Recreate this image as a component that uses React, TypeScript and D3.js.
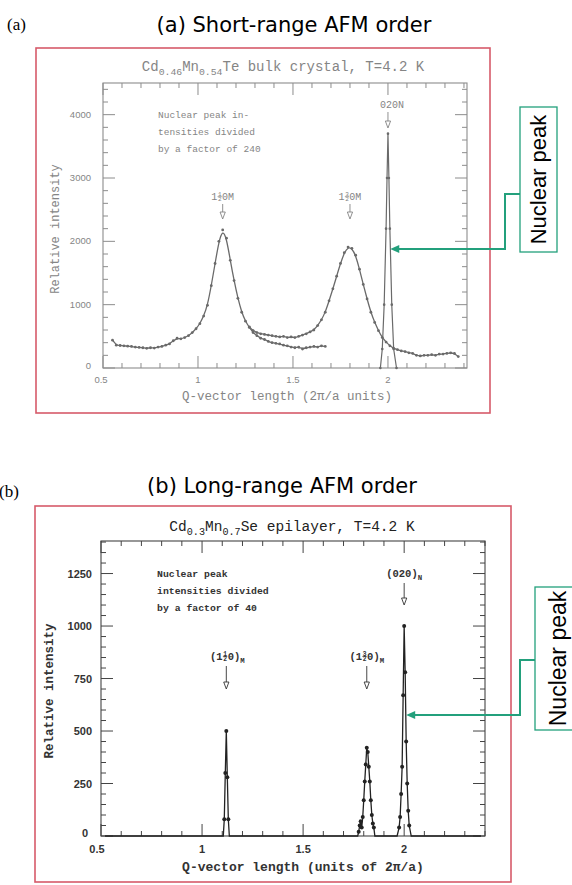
import * as d3 from "d3";
import { useEffect, useRef } from "react";

// ---- panel (a): Cd0.46Mn0.54Te bulk crystal, short-range order ----
const scanAQ = [0.55, 0.57, 0.59, 0.61, 0.63, 0.65, 0.67, 0.69, 0.71, 0.73, 0.75, 0.77, 0.79, 0.81, 0.83, 0.85, 0.87, 0.89, 0.91, 0.93, 0.95, 0.97, 0.99, 1.01, 1.03, 1.05, 1.07, 1.09, 1.11, 1.13, 1.15, 1.17, 1.19, 1.21, 1.23, 1.25, 1.27, 1.29, 1.31, 1.33, 1.35, 1.37, 1.39, 1.41, 1.43, 1.45, 1.47, 1.49, 1.51, 1.53, 1.55, 1.57, 1.59, 1.61, 1.63, 1.65, 1.67];
const scanAI = [440, 360, 355, 350, 345, 340, 330, 325, 320, 310, 320, 315, 330, 340, 360, 380, 430, 470, 460, 480, 510, 560, 620, 700, 820, 990, 1300, 1650, 2000, 2180, 2050, 1700, 1380, 1100, 880, 740, 640, 560, 510, 470, 450, 420, 400, 390, 380, 360, 350, 330, 320, 330, 300, 320, 330, 340, 330, 350, 340];

const scanBQ = [1.27, 1.29, 1.31, 1.33, 1.35, 1.37, 1.39, 1.41, 1.43, 1.45, 1.47, 1.49, 1.51, 1.53, 1.55, 1.57, 1.59, 1.61, 1.63, 1.65, 1.67, 1.69, 1.71, 1.73, 1.75, 1.77, 1.79, 1.81, 1.83, 1.85, 1.87, 1.89, 1.91, 1.93, 1.95, 1.97, 1.99, 2.01, 2.03, 2.05, 2.07, 2.09, 2.11, 2.13, 2.15, 2.17, 2.19, 2.21, 2.23, 2.25, 2.27, 2.29, 2.31, 2.33, 2.35, 2.37];
const scanBI = [650, 590, 560, 540, 530, 520, 510, 500, 490, 500, 480, 490, 480, 500, 520, 540, 570, 600, 670, 760, 880, 1060, 1250, 1450, 1650, 1820, 1910, 1890, 1780, 1560, 1320, 1090, 880, 720, 590, 480, 410, 350, 310, 290, 270, 260, 240, 230, 200, 190, 200, 200, 210, 200, 220, 220, 230, 240, 230, 180];

const nucAQ = [1.96, 1.97, 1.98, 1.99, 1.995, 2.0, 2.005, 2.01, 2.02, 2.03, 2.045];
const nucAI = [0, 300, 1000, 2200, 3000, 3700, 3000, 2200, 1000, 300, 0];

const xTicksA = [0.5, 1, 1.5, 2];
const yTicksA = [0, 1000, 2000, 3000, 4000];

// ---- panel (b): Cd0.3Mn0.7Se epilayer, long-range order ----
const epiQ = [0.52, 1.105, 1.11, 1.115, 1.12, 1.125, 1.13, 1.135, 1.77, 1.775, 1.78, 1.785, 1.79, 1.795, 1.8, 1.805, 1.81, 1.815, 1.82, 1.825, 1.83, 1.835, 1.84, 1.845, 1.85, 1.855, 1.965, 1.975, 1.98, 1.985, 1.99, 1.995, 2.0, 2.005, 2.01, 2.015, 2.02, 2.025, 2.035, 2.38];
const epiI = [0, 0, 80, 300, 500, 280, 80, 0, 0, 20, 50, 70, 40, 90, 170, 260, 340, 420, 400, 330, 260, 170, 100, 60, 40, 0, 0, 40, 90, 200, 330, 670, 1000, 780, 450, 250, 120, 50, 0, 0];

const xTicksB = [0.5, 1, 1.5, 2];
const yTicksB = [0, 250, 500, 750, 1000, 1250];

const tickText = (v: number) => (v === 0.5 ? "0.5" : v === 1.5 ? "1.5" : String(v));

const GREEN = "#23a07c";
const RED = "#d65a6a";

type G = d3.Selection<SVGGElement, unknown, null, undefined>;
type Part = { t?: string; frac?: [string, string]; sub?: boolean };

function drawFrame(
  g: G,
  x: d3.ScaleLinear<number, number>,
  y: d3.ScaleLinear<number, number>,
  xMajor: number[],
  yMajor: number[],
  yMinorStep: number,
  color: string,
) {
  const [x0, x1] = x.range();
  const [y0, y1] = y.range();
  g.append("rect")
    .attr("x", x0)
    .attr("y", y1)
    .attr("width", x1 - x0)
    .attr("height", y0 - y1)
    .attr("fill", "none")
    .attr("stroke", color)
    .attr("stroke-width", 1.1);

  const xd = x.domain();
  const minorX = d3.range(Math.ceil(xd[0] * 10), Math.floor(xd[1] * 10) + 1).map((v) => v / 10);
  minorX.forEach((v) => {
    const major = xMajor.some((m) => Math.abs(m - v) < 1e-6);
    const len = major ? 12 : 5;
    g.append("line").attr("x1", x(v)).attr("x2", x(v)).attr("y1", y0).attr("y2", y0 - len).attr("stroke", color);
    g.append("line").attr("x1", x(v)).attr("x2", x(v)).attr("y1", y1).attr("y2", y1 + len).attr("stroke", color);
  });

  const yd = y.domain();
  const minorY = d3.range(0, yd[1] + 1e-6, yMinorStep);
  minorY.forEach((v) => {
    const major = yMajor.includes(v);
    const len = major ? 12 : 5;
    g.append("line").attr("x1", x0).attr("x2", x0 + len).attr("y1", y(v)).attr("y2", y(v)).attr("stroke", color);
    g.append("line").attr("x1", x1).attr("x2", x1 - len).attr("y1", y(v)).attr("y2", y(v)).attr("stroke", color);
  });
}

function peakLabel(g: G, cx: number, base: number, parts: Part[], size: number, color: string, weight: string) {
  const cw = size * 0.6;
  const widths = parts.map((p) => (p.frac ? cw * 0.8 : p.sub ? cw * 0.7 * p.t!.length : cw * p.t!.length));
  let xx = cx - d3.sum(widths) / 2;
  parts.forEach((p, i) => {
    if (p.frac) {
      const fs = size * 0.6;
      const mid = xx + widths[i] / 2;
      g.append("text").attr("x", mid).attr("y", base - size * 0.42).attr("text-anchor", "middle")
        .attr("font-size", fs).attr("font-family", "Liberation Mono").attr("font-weight", weight).attr("fill", color).text(p.frac[0]);
      g.append("line").attr("x1", mid - fs * 0.35).attr("x2", mid + fs * 0.35)
        .attr("y1", base - size * 0.34).attr("y2", base - size * 0.34).attr("stroke", color).attr("stroke-width", 0.7);
      g.append("text").attr("x", mid).attr("y", base + size * 0.14).attr("text-anchor", "middle")
        .attr("font-size", fs).attr("font-family", "Liberation Mono").attr("font-weight", weight).attr("fill", color).text(p.frac[1]);
    } else {
      g.append("text").attr("x", xx).attr("y", base + (p.sub ? size * 0.25 : 0))
        .attr("font-size", p.sub ? size * 0.7 : size).attr("font-family", "Liberation Mono")
        .attr("font-weight", weight).attr("fill", color).text(p.t!);
    }
    xx += widths[i];
  });
}

function downArrow(g: G, cx: number, y1: number, y2: number, color: string) {
  g.append("line").attr("x1", cx).attr("x2", cx).attr("y1", y1).attr("y2", y2 - 6).attr("stroke", color).attr("stroke-width", 0.9);
  g.append("path")
    .attr("d", `M${cx - 2.6},${y2 - 7}L${cx},${y2}L${cx + 2.6},${y2 - 7}Z`)
    .attr("fill", "#fff")
    .attr("stroke", color)
    .attr("stroke-width", 0.9);
}

function nuclearCallout(g: G, bx: number, by: number, bw: number, bh: number, elbowY: number, turnX: number, arrowY: number, tipX: number, fs: number) {
  g.append("rect").attr("x", bx).attr("y", by).attr("width", bw).attr("height", bh)
    .attr("fill", "#fff").attr("stroke", GREEN).attr("stroke-width", 1.3);
  g.append("path")
    .attr("d", `M${bx},${elbowY}H${turnX}V${arrowY}H${tipX + 7}`)
    .attr("fill", "none").attr("stroke", GREEN).attr("stroke-width", 2);
  g.append("path")
    .attr("d", `M${tipX},${arrowY}L${tipX + 9},${arrowY - 4}L${tipX + 9},${arrowY + 4}Z`)
    .attr("fill", GREEN);
  g.append("text")
    .attr("transform", `translate(${bx + bw / 2 + fs * 0.36},${by + bh / 2}) rotate(-90)`)
    .attr("text-anchor", "middle").attr("font-family", "Liberation Sans").attr("font-size", fs)
    .attr("fill", "#000").text("Nuclear peak");
}

function subtitle(g: G, cx: number, y: number, parts: Part[], size: number, color: string, weight: string) {
  const t = g.append("text").attr("x", cx).attr("y", y).attr("text-anchor", "middle")
    .attr("font-family", "Liberation Mono").attr("font-size", size).attr("font-weight", weight).attr("fill", color);
  let shifted = false;
  parts.forEach((p) => {
    const ts = t.append("tspan").text(p.t!);
    if (p.sub) {
      ts.attr("font-size", size * 0.7).attr("dy", shifted ? 0 : 4);
      shifted = true;
    } else if (shifted) {
      ts.attr("dy", -4);
      shifted = false;
    }
  });
}

export default function App() {
  const svgRef = useRef<SVGSVGElement>(null);

  useEffect(() => {
    if (!svgRef.current) return;
    const svg = d3.select(svgRef.current);
    svg.selectAll("*").remove();
    const root = svg.append("g") as unknown as G;

    // ----- panel (a) -----
    root.append("text").attr("x", 7).attr("y", 30).attr("font-family", "Liberation Serif").attr("font-size", 17).text("(a)");
    root.append("text").attr("x", 294).attr("y", 32).attr("text-anchor", "middle")
      .attr("font-family", "DejaVu Sans").attr("font-size", 21).text("(a) Short-range AFM order");
    root.append("rect").attr("x", 36).attr("y", 48).attr("width", 454).attr("height", 365)
      .attr("fill", "none").attr("stroke", RED).attr("stroke-width", 1.6);

    const gA = root.append("g") as unknown as G;
    const xA = d3.scaleLinear().domain([0.5, 2.416]).range([103, 467]);
    const yA = d3.scaleLinear().domain([0, 4500]).range([368, 83]);
    const grayAxis = "#8c8c8c";
    const grayData = "#6a6a6a";
    const grayText = "#858585";

    subtitle(gA, 283, 71, [{ t: "Cd" }, { t: "0.46", sub: true }, { t: "Mn" }, { t: "0.54", sub: true }, { t: "Te bulk crystal, T=4.2 K" }], 14, grayText, "normal");
    drawFrame(gA, xA, yA, xTicksA, yTicksA, 200, grayAxis);

    xTicksA.forEach((v) => {
      gA.append("text").attr("x", xA(v) - (v === 0.5 ? 2 : 0)).attr("y", 383).attr("text-anchor", "middle")
        .attr("font-family", "Liberation Sans").attr("font-size", 9.5).attr("fill", grayText).text(tickText(v));
    });
    yTicksA.forEach((v) => {
      gA.append("text").attr("x", 91).attr("y", yA(v) + (v === 0 ? 1 : 3)).attr("text-anchor", "end")
        .attr("font-family", "Liberation Sans").attr("font-size", 9.5).attr("fill", grayText).text(String(v));
    });
    gA.append("text").attr("transform", "translate(59,229) rotate(-90)").attr("text-anchor", "middle")
      .attr("font-family", "Liberation Mono").attr("font-size", 12).attr("fill", grayText).text("Relative intensity");
    gA.append("text").attr("x", 287).attr("y", 400).attr("text-anchor", "middle")
      .attr("font-family", "Liberation Mono").attr("font-size", 12.5).attr("fill", grayText).text("Q-vector length (2π/a units)");

    ["Nuclear peak in-", "tensities divided", "by a factor of 240"].forEach((s, i) => {
      gA.append("text").attr("x", 158).attr("y", 118 + i * 17).attr("font-family", "Liberation Mono")
        .attr("font-size", 9.5).attr("fill", grayText).text(s);
    });

    const lineA = d3.line<[number, number]>().x((d) => xA(d[0])).y((d) => yA(d[1])).curve(d3.curveBasis);
    const lineLin = d3.line<[number, number]>().x((d) => xA(d[0])).y((d) => yA(d[1]));
    [
      [scanAQ, scanAI],
      [scanBQ, scanBI],
    ].forEach(([qs, is]) => {
      const pts = qs.map((q, i) => [q, is[i]] as [number, number]);
      gA.append("path").datum(pts).attr("d", lineA).attr("fill", "none").attr("stroke", grayData).attr("stroke-width", 1.3);
      gA.selectAll(null).data(pts).enter().append("circle")
        .attr("cx", (d) => xA(d[0])).attr("cy", (d) => yA(d[1])).attr("r", 1.4).attr("fill", grayData);
    });
    const nucPts = nucAQ.map((q, i) => [q, nucAI[i]] as [number, number]);
    gA.append("path").datum(nucPts).attr("d", lineLin).attr("fill", "none").attr("stroke", grayData).attr("stroke-width", 1.2);
    gA.selectAll(null).data(nucPts).enter().append("circle")
      .attr("cx", (d) => xA(d[0])).attr("cy", (d) => yA(d[1])).attr("r", 1.3).attr("fill", grayData);

    peakLabel(gA, xA(1.13), 200, [{ t: "1" }, { frac: ["1", "2"] }, { t: "0M" }], 10, grayText, "normal");
    downArrow(gA, xA(1.13), 204, 219, grayText);
    peakLabel(gA, xA(1.8), 200, [{ t: "1" }, { frac: ["3", "2"] }, { t: "0M" }], 10, grayText, "normal");
    downArrow(gA, xA(1.8), 204, 219, grayText);
    peakLabel(gA, xA(2.0) + 4, 108, [{ t: "020N" }], 10, grayText, "normal");
    downArrow(gA, xA(2.0), 112, 128, grayText);

    nuclearCallout(root, 520, 107, 37, 145, 194, 505, 249, xA(2.012), 22);

    // ----- panel (b) -----
    root.append("text").attr("x", -1).attr("y", 497).attr("font-family", "Liberation Serif").attr("font-size", 17).text("(b)");
    root.append("text").attr("x", 282).attr("y", 493).attr("text-anchor", "middle")
      .attr("font-family", "DejaVu Sans").attr("font-size", 21).text("(b) Long-range AFM order");
    root.append("rect").attr("x", 35).attr("y", 506).attr("width", 476).attr("height", 376)
      .attr("fill", "none").attr("stroke", RED).attr("stroke-width", 1.6);

    const gB = root.append("g") as unknown as G;
    const xB = d3.scaleLinear().domain([0.5, 2.4]).range([101, 485]);
    const yB = d3.scaleLinear().domain([0, 1405]).range([836, 541]);
    const dark = "#333";

    subtitle(gB, 292, 531, [{ t: "Cd" }, { t: "0.3", sub: true }, { t: "Mn" }, { t: "0.7", sub: true }, { t: "Se epilayer, T=4.2 K" }], 14.5, "#222", "normal");
    drawFrame(gB, xB, yB, xTicksB, yTicksB, 50, "#444");

    xTicksB.forEach((v) => {
      gB.append("text").attr("x", xB(v) - (v === 0.5 ? 4 : 0)).attr("y", 853).attr("text-anchor", "middle")
        .attr("font-family", "Liberation Sans").attr("font-weight", "bold").attr("font-size", 11).attr("fill", dark).text(tickText(v));
    });
    yTicksB.forEach((v) => {
      gB.append("text").attr("x", v === 0 ? 88 : 92).attr("y", yB(v) + (v === 0 ? 1 : 4)).attr("text-anchor", "end")
        .attr("font-family", "Liberation Sans").attr("font-weight", "bold").attr("font-size", 11).attr("fill", dark).text(String(v));
    });
    gB.append("text").attr("transform", "translate(53,691) rotate(-90)").attr("text-anchor", "middle")
      .attr("font-family", "Liberation Mono").attr("font-weight", "bold").attr("font-size", 12.5).attr("fill", dark).text("Relative intensity");
    gB.append("text").attr("x", 303).attr("y", 871).attr("text-anchor", "middle")
      .attr("font-family", "Liberation Mono").attr("font-weight", "bold").attr("font-size", 13).attr("fill", dark).text("Q-vector length (units of 2π/a)");

    ["Nuclear peak", "intensities divided", "by a factor of 40"].forEach((s, i) => {
      gB.append("text").attr("x", 157).attr("y", 577 + i * 17).attr("font-family", "Liberation Mono")
        .attr("font-weight", "bold").attr("font-size", 9.8).attr("fill", dark).text(s);
    });

    const epiPts = epiQ.map((q, i) => [q, epiI[i]] as [number, number]);
    const lineB = d3.line<[number, number]>().x((d) => xB(d[0])).y((d) => yB(d[1]));
    gB.append("path").datum(epiPts).attr("d", lineB).attr("fill", "none").attr("stroke", "#222").attr("stroke-width", 1.3);
    gB.selectAll(null).data(epiPts.filter((d) => d[1] > 0)).enter().append("circle")
      .attr("cx", (d) => xB(d[0])).attr("cy", (d) => yB(d[1])).attr("r", 2).attr("fill", "#222");

    peakLabel(gB, xB(1.125), 660, [{ t: "(1" }, { frac: ["1", "2"] }, { t: "0)" }, { t: "M", sub: true }], 10.5, dark, "bold");
    downArrow(gB, xB(1.12), 666, 689, dark);
    peakLabel(gB, xB(1.815), 660, [{ t: "(1" }, { frac: ["3", "2"] }, { t: "0)" }, { t: "M", sub: true }], 10.5, dark, "bold");
    downArrow(gB, xB(1.815), 666, 689, dark);
    peakLabel(gB, xB(2.0), 577, [{ t: "(020)" }, { t: "N", sub: true }], 10.5, dark, "bold");
    downArrow(gB, xB(2.0), 583, 605, dark);

    nuclearCallout(root, 535, 587, 45, 143, 660, 520, 715, xB(2.01), 23);
  }, []);

  return (
    <svg
      ref={svgRef}
      width={572}
      height={885}
      style={{ position: "absolute", left: 0, top: 0, background: "#fff" }}
    />
  );
}
